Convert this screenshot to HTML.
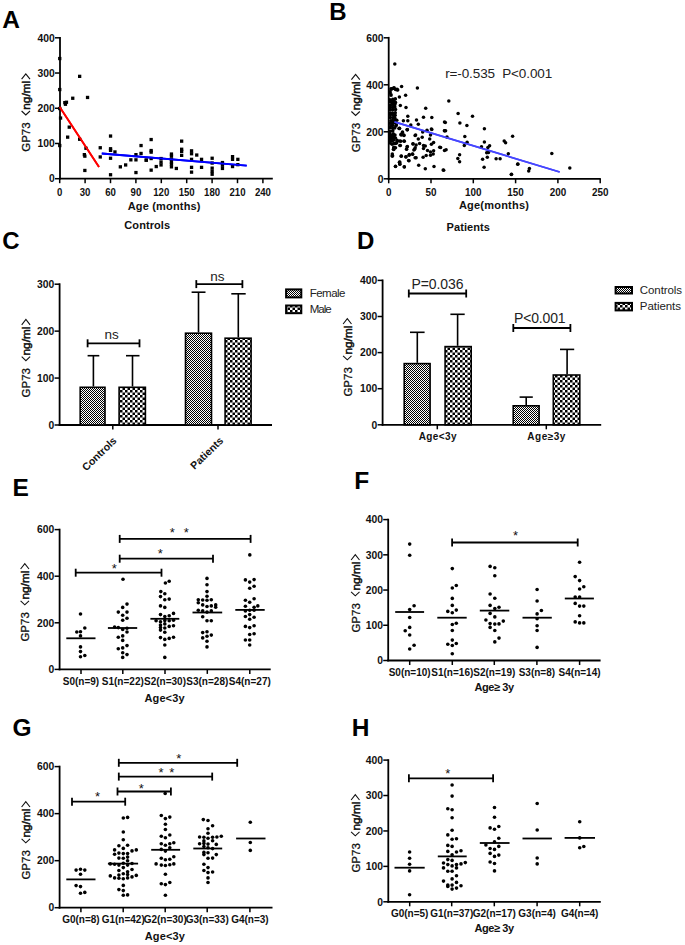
<!DOCTYPE html>
<html><head><meta charset="utf-8"><style>
html,body{margin:0;padding:0;background:#fff;}
svg{display:block;font-family:"Liberation Sans", sans-serif;}
</style></head><body>
<svg width="685" height="945" viewBox="0 0 685 945">
<rect width="685" height="945" fill="#fff"/>
<defs>
<pattern id="pf" patternUnits="userSpaceOnUse" width="2" height="2"><rect width="2" height="2" fill="#fff"/><rect width="1" height="1" fill="#000"/><rect x="1" y="1" width="1" height="1" fill="#000"/></pattern>
<pattern id="pm" patternUnits="userSpaceOnUse" width="5" height="5"><rect width="5" height="5" fill="#fff"/><rect width="2.5" height="2.5" fill="#000"/><rect x="2.5" y="2.5" width="2.5" height="2.5" fill="#000"/></pattern>
</defs>
<text x="2.20" y="27.50" font-size="24.5" font-weight="bold" text-anchor="start" fill="#000" >A</text>
<line x1="60.00" y1="179.60" x2="60.00" y2="36.90" stroke="#000" stroke-width="1.8"/>
<line x1="55.00" y1="178.70" x2="60.00" y2="178.70" stroke="#000" stroke-width="1.5"/>
<text x="54.70" y="182.40" font-size="11.5" font-weight="bold" text-anchor="end" fill="#111" textLength="5.75" lengthAdjust="spacingAndGlyphs">0</text>
<line x1="55.00" y1="143.47" x2="60.00" y2="143.47" stroke="#000" stroke-width="1.5"/>
<text x="54.70" y="147.17" font-size="11.5" font-weight="bold" text-anchor="end" fill="#111" textLength="17.25" lengthAdjust="spacingAndGlyphs">100</text>
<line x1="55.00" y1="108.25" x2="60.00" y2="108.25" stroke="#000" stroke-width="1.5"/>
<text x="54.70" y="111.95" font-size="11.5" font-weight="bold" text-anchor="end" fill="#111" textLength="17.25" lengthAdjust="spacingAndGlyphs">200</text>
<line x1="55.00" y1="73.03" x2="60.00" y2="73.03" stroke="#000" stroke-width="1.5"/>
<text x="54.70" y="76.73" font-size="11.5" font-weight="bold" text-anchor="end" fill="#111" textLength="17.25" lengthAdjust="spacingAndGlyphs">300</text>
<line x1="55.00" y1="37.80" x2="60.00" y2="37.80" stroke="#000" stroke-width="1.5"/>
<text x="54.70" y="41.50" font-size="11.5" font-weight="bold" text-anchor="end" fill="#111" textLength="17.25" lengthAdjust="spacingAndGlyphs">400</text>
<line x1="59.10" y1="178.70" x2="272.80" y2="178.70" stroke="#000" stroke-width="1.8"/>
<line x1="59.70" y1="178.70" x2="59.70" y2="183.20" stroke="#000" stroke-width="1.5"/>
<line x1="85.10" y1="178.70" x2="85.10" y2="183.20" stroke="#000" stroke-width="1.5"/>
<line x1="110.50" y1="178.70" x2="110.50" y2="183.20" stroke="#000" stroke-width="1.5"/>
<line x1="135.90" y1="178.70" x2="135.90" y2="183.20" stroke="#000" stroke-width="1.5"/>
<line x1="161.30" y1="178.70" x2="161.30" y2="183.20" stroke="#000" stroke-width="1.5"/>
<line x1="186.70" y1="178.70" x2="186.70" y2="183.20" stroke="#000" stroke-width="1.5"/>
<line x1="212.10" y1="178.70" x2="212.10" y2="183.20" stroke="#000" stroke-width="1.5"/>
<line x1="237.50" y1="178.70" x2="237.50" y2="183.20" stroke="#000" stroke-width="1.5"/>
<line x1="262.90" y1="178.70" x2="262.90" y2="183.20" stroke="#000" stroke-width="1.5"/>
<text x="59.70" y="195.60" font-size="11.2" font-weight="bold" text-anchor="middle" fill="#111" textLength="5.35" lengthAdjust="spacingAndGlyphs">0</text>
<text x="85.10" y="195.60" font-size="11.2" font-weight="bold" text-anchor="middle" fill="#111" textLength="10.70" lengthAdjust="spacingAndGlyphs">30</text>
<text x="110.50" y="195.60" font-size="11.2" font-weight="bold" text-anchor="middle" fill="#111" textLength="10.70" lengthAdjust="spacingAndGlyphs">60</text>
<text x="135.90" y="195.60" font-size="11.2" font-weight="bold" text-anchor="middle" fill="#111" textLength="10.70" lengthAdjust="spacingAndGlyphs">90</text>
<text x="161.30" y="195.60" font-size="11.2" font-weight="bold" text-anchor="middle" fill="#111" textLength="16.05" lengthAdjust="spacingAndGlyphs">120</text>
<text x="186.70" y="195.60" font-size="11.2" font-weight="bold" text-anchor="middle" fill="#111" textLength="16.05" lengthAdjust="spacingAndGlyphs">150</text>
<text x="212.10" y="195.60" font-size="11.2" font-weight="bold" text-anchor="middle" fill="#111" textLength="16.05" lengthAdjust="spacingAndGlyphs">180</text>
<text x="237.50" y="195.60" font-size="11.2" font-weight="bold" text-anchor="middle" fill="#111" textLength="16.05" lengthAdjust="spacingAndGlyphs">210</text>
<text x="262.90" y="195.60" font-size="11.2" font-weight="bold" text-anchor="middle" fill="#111" textLength="16.05" lengthAdjust="spacingAndGlyphs">240</text>
<g transform="translate(30.00,151.80) rotate(-90)" fill="#111">
<text x="0" y="0" font-size="11.5" stroke="#111" stroke-width="0.3" textLength="29.5" lengthAdjust="spacingAndGlyphs">GP73</text>
<path d="M40.8,-8.4 L36.8,-4.2 L40.8,0" fill="none" stroke="#111" stroke-width="1.1"/>
<text x="42" y="0" font-size="11.8" stroke="#111" stroke-width="0.5" textLength="29" lengthAdjust="spacingAndGlyphs">ng/ml</text>
<path d="M72.6,-8.4 L78.0,-4.2 L72.6,0" fill="none" stroke="#111" stroke-width="1.1"/>
</g>
<text x="164.10" y="209.50" font-size="11" font-weight="bold" text-anchor="middle" fill="#111" textLength="72.8">Age (months)</text>
<text x="147.20" y="229.20" font-size="11" font-weight="bold" text-anchor="middle" fill="#111" textLength="45.7">Controls</text>
<line x1="59.70" y1="107.00" x2="99.00" y2="167.00" stroke="#ff0000" stroke-width="1.8"/>
<line x1="101.80" y1="153.50" x2="246.70" y2="165.70" stroke="#0000ff" stroke-width="1.8"/>
<text x="329.30" y="19.50" font-size="24" font-weight="bold" text-anchor="start" fill="#000" >B</text>
<line x1="388.70" y1="179.70" x2="388.70" y2="36.90" stroke="#000" stroke-width="1.8"/>
<line x1="383.70" y1="178.80" x2="388.70" y2="178.80" stroke="#000" stroke-width="1.5"/>
<text x="383.40" y="182.50" font-size="11.5" font-weight="bold" text-anchor="end" fill="#111" textLength="5.75" lengthAdjust="spacingAndGlyphs">0</text>
<line x1="383.70" y1="131.80" x2="388.70" y2="131.80" stroke="#000" stroke-width="1.5"/>
<text x="383.40" y="135.50" font-size="11.5" font-weight="bold" text-anchor="end" fill="#111" textLength="17.25" lengthAdjust="spacingAndGlyphs">200</text>
<line x1="383.70" y1="84.80" x2="388.70" y2="84.80" stroke="#000" stroke-width="1.5"/>
<text x="383.40" y="88.50" font-size="11.5" font-weight="bold" text-anchor="end" fill="#111" textLength="17.25" lengthAdjust="spacingAndGlyphs">400</text>
<line x1="383.70" y1="37.80" x2="388.70" y2="37.80" stroke="#000" stroke-width="1.5"/>
<text x="383.40" y="41.50" font-size="11.5" font-weight="bold" text-anchor="end" fill="#111" textLength="17.25" lengthAdjust="spacingAndGlyphs">600</text>
<line x1="387.80" y1="178.80" x2="600.80" y2="178.80" stroke="#000" stroke-width="1.8"/>
<line x1="388.70" y1="178.80" x2="388.70" y2="183.30" stroke="#000" stroke-width="1.5"/>
<line x1="431.00" y1="178.80" x2="431.00" y2="183.30" stroke="#000" stroke-width="1.5"/>
<line x1="473.30" y1="178.80" x2="473.30" y2="183.30" stroke="#000" stroke-width="1.5"/>
<line x1="515.60" y1="178.80" x2="515.60" y2="183.30" stroke="#000" stroke-width="1.5"/>
<line x1="557.90" y1="178.80" x2="557.90" y2="183.30" stroke="#000" stroke-width="1.5"/>
<line x1="600.20" y1="178.80" x2="600.20" y2="183.30" stroke="#000" stroke-width="1.5"/>
<text x="388.70" y="195.90" font-size="11.2" font-weight="bold" text-anchor="middle" fill="#111" textLength="5.50" lengthAdjust="spacingAndGlyphs">0</text>
<text x="431.00" y="195.90" font-size="11.2" font-weight="bold" text-anchor="middle" fill="#111" textLength="11.00" lengthAdjust="spacingAndGlyphs">50</text>
<text x="473.30" y="195.90" font-size="11.2" font-weight="bold" text-anchor="middle" fill="#111" textLength="16.50" lengthAdjust="spacingAndGlyphs">100</text>
<text x="515.60" y="195.90" font-size="11.2" font-weight="bold" text-anchor="middle" fill="#111" textLength="16.50" lengthAdjust="spacingAndGlyphs">150</text>
<text x="557.90" y="195.90" font-size="11.2" font-weight="bold" text-anchor="middle" fill="#111" textLength="16.50" lengthAdjust="spacingAndGlyphs">200</text>
<text x="600.20" y="195.90" font-size="11.2" font-weight="bold" text-anchor="middle" fill="#111" textLength="16.50" lengthAdjust="spacingAndGlyphs">250</text>
<g transform="translate(359.80,152.30) rotate(-90)" fill="#111">
<text x="0" y="0" font-size="11.5" stroke="#111" stroke-width="0.3" textLength="29.5" lengthAdjust="spacingAndGlyphs">GP73</text>
<path d="M40.8,-8.4 L36.8,-4.2 L40.8,0" fill="none" stroke="#111" stroke-width="1.1"/>
<text x="42" y="0" font-size="11.8" stroke="#111" stroke-width="0.5" textLength="29" lengthAdjust="spacingAndGlyphs">ng/ml</text>
<path d="M72.6,-8.4 L78.0,-4.2 L72.6,0" fill="none" stroke="#111" stroke-width="1.1"/>
</g>
<text x="445.20" y="78.30" font-size="13.5" font-weight="normal" text-anchor="start" fill="#222" textLength="107">r=-0.535&#160;&#160;P&lt;0.001</text>
<line x1="394.40" y1="121.90" x2="559.70" y2="172.00" stroke="#4646ff" stroke-width="1.7"/>
<text x="493.90" y="208.80" font-size="11" font-weight="bold" text-anchor="middle" fill="#111" textLength="70">Age(months)</text>
<text x="468.20" y="230.60" font-size="11" font-weight="bold" text-anchor="middle" fill="#111" textLength="43.3">Patients</text>
<text x="2.30" y="249.30" font-size="24" font-weight="bold" text-anchor="start" fill="#000" >C</text>
<line x1="59.60" y1="425.90" x2="59.60" y2="283.30" stroke="#000" stroke-width="1.8"/>
<line x1="54.60" y1="425.00" x2="59.60" y2="425.00" stroke="#000" stroke-width="1.5"/>
<text x="54.30" y="428.70" font-size="11.5" font-weight="bold" text-anchor="end" fill="#111" textLength="5.75" lengthAdjust="spacingAndGlyphs">0</text>
<line x1="54.60" y1="378.07" x2="59.60" y2="378.07" stroke="#000" stroke-width="1.5"/>
<text x="54.30" y="381.77" font-size="11.5" font-weight="bold" text-anchor="end" fill="#111" textLength="17.25" lengthAdjust="spacingAndGlyphs">100</text>
<line x1="54.60" y1="331.13" x2="59.60" y2="331.13" stroke="#000" stroke-width="1.5"/>
<text x="54.30" y="334.83" font-size="11.5" font-weight="bold" text-anchor="end" fill="#111" textLength="17.25" lengthAdjust="spacingAndGlyphs">200</text>
<line x1="54.60" y1="284.20" x2="59.60" y2="284.20" stroke="#000" stroke-width="1.5"/>
<text x="54.30" y="287.90" font-size="11.5" font-weight="bold" text-anchor="end" fill="#111" textLength="17.25" lengthAdjust="spacingAndGlyphs">300</text>
<line x1="58.70" y1="425.00" x2="272.00" y2="425.00" stroke="#000" stroke-width="1.8"/>
<line x1="112.80" y1="425.00" x2="112.80" y2="429.50" stroke="#000" stroke-width="1.5"/>
<line x1="218.00" y1="425.00" x2="218.00" y2="429.50" stroke="#000" stroke-width="1.5"/>
<text x="357.00" y="249.20" font-size="24" font-weight="bold" text-anchor="start" fill="#000" >D</text>
<line x1="382.60" y1="425.70" x2="382.60" y2="279.50" stroke="#000" stroke-width="1.8"/>
<line x1="377.60" y1="424.80" x2="382.60" y2="424.80" stroke="#000" stroke-width="1.5"/>
<text x="377.30" y="428.50" font-size="11.5" font-weight="bold" text-anchor="end" fill="#111" textLength="5.75" lengthAdjust="spacingAndGlyphs">0</text>
<line x1="377.60" y1="388.70" x2="382.60" y2="388.70" stroke="#000" stroke-width="1.5"/>
<text x="377.30" y="392.40" font-size="11.5" font-weight="bold" text-anchor="end" fill="#111" textLength="17.25" lengthAdjust="spacingAndGlyphs">100</text>
<line x1="377.60" y1="352.60" x2="382.60" y2="352.60" stroke="#000" stroke-width="1.5"/>
<text x="377.30" y="356.30" font-size="11.5" font-weight="bold" text-anchor="end" fill="#111" textLength="17.25" lengthAdjust="spacingAndGlyphs">200</text>
<line x1="377.60" y1="316.50" x2="382.60" y2="316.50" stroke="#000" stroke-width="1.5"/>
<text x="377.30" y="320.20" font-size="11.5" font-weight="bold" text-anchor="end" fill="#111" textLength="17.25" lengthAdjust="spacingAndGlyphs">300</text>
<line x1="377.60" y1="280.40" x2="382.60" y2="280.40" stroke="#000" stroke-width="1.5"/>
<text x="377.30" y="284.10" font-size="11.5" font-weight="bold" text-anchor="end" fill="#111" textLength="17.25" lengthAdjust="spacingAndGlyphs">400</text>
<line x1="381.70" y1="424.80" x2="601.20" y2="424.80" stroke="#000" stroke-width="1.8"/>
<line x1="437.30" y1="424.80" x2="437.30" y2="429.30" stroke="#000" stroke-width="1.5"/>
<line x1="546.30" y1="424.80" x2="546.30" y2="429.30" stroke="#000" stroke-width="1.5"/>
<text x="12.60" y="495.50" font-size="24.5" font-weight="bold" text-anchor="start" fill="#000" >E</text>
<line x1="59.60" y1="670.30" x2="59.60" y2="528.70" stroke="#000" stroke-width="1.8"/>
<line x1="54.60" y1="669.40" x2="59.60" y2="669.40" stroke="#000" stroke-width="1.5"/>
<text x="54.30" y="673.10" font-size="11.5" font-weight="bold" text-anchor="end" fill="#111" textLength="5.75" lengthAdjust="spacingAndGlyphs">0</text>
<line x1="54.60" y1="622.80" x2="59.60" y2="622.80" stroke="#000" stroke-width="1.5"/>
<text x="54.30" y="626.50" font-size="11.5" font-weight="bold" text-anchor="end" fill="#111" textLength="17.25" lengthAdjust="spacingAndGlyphs">200</text>
<line x1="54.60" y1="576.20" x2="59.60" y2="576.20" stroke="#000" stroke-width="1.5"/>
<text x="54.30" y="579.90" font-size="11.5" font-weight="bold" text-anchor="end" fill="#111" textLength="17.25" lengthAdjust="spacingAndGlyphs">400</text>
<line x1="54.60" y1="529.60" x2="59.60" y2="529.60" stroke="#000" stroke-width="1.5"/>
<text x="54.30" y="533.30" font-size="11.5" font-weight="bold" text-anchor="end" fill="#111" textLength="17.25" lengthAdjust="spacingAndGlyphs">600</text>
<line x1="58.70" y1="669.40" x2="270.70" y2="669.40" stroke="#000" stroke-width="1.8"/>
<line x1="81.00" y1="669.40" x2="81.00" y2="673.90" stroke="#000" stroke-width="1.5"/>
<line x1="122.80" y1="669.40" x2="122.80" y2="673.90" stroke="#000" stroke-width="1.5"/>
<line x1="165.00" y1="669.40" x2="165.00" y2="673.90" stroke="#000" stroke-width="1.5"/>
<line x1="207.30" y1="669.40" x2="207.30" y2="673.90" stroke="#000" stroke-width="1.5"/>
<line x1="249.80" y1="669.40" x2="249.80" y2="673.90" stroke="#000" stroke-width="1.5"/>
<text x="354.30" y="488.60" font-size="24.5" font-weight="bold" text-anchor="start" fill="#000" >F</text>
<line x1="388.20" y1="661.40" x2="388.20" y2="518.70" stroke="#000" stroke-width="1.8"/>
<line x1="383.20" y1="660.50" x2="388.20" y2="660.50" stroke="#000" stroke-width="1.5"/>
<text x="382.90" y="664.20" font-size="11.5" font-weight="bold" text-anchor="end" fill="#111" textLength="5.75" lengthAdjust="spacingAndGlyphs">0</text>
<line x1="383.20" y1="625.27" x2="388.20" y2="625.27" stroke="#000" stroke-width="1.5"/>
<text x="382.90" y="628.98" font-size="11.5" font-weight="bold" text-anchor="end" fill="#111" textLength="17.25" lengthAdjust="spacingAndGlyphs">100</text>
<line x1="383.20" y1="590.05" x2="388.20" y2="590.05" stroke="#000" stroke-width="1.5"/>
<text x="382.90" y="593.75" font-size="11.5" font-weight="bold" text-anchor="end" fill="#111" textLength="17.25" lengthAdjust="spacingAndGlyphs">200</text>
<line x1="383.20" y1="554.83" x2="388.20" y2="554.83" stroke="#000" stroke-width="1.5"/>
<text x="382.90" y="558.53" font-size="11.5" font-weight="bold" text-anchor="end" fill="#111" textLength="17.25" lengthAdjust="spacingAndGlyphs">300</text>
<line x1="383.20" y1="519.60" x2="388.20" y2="519.60" stroke="#000" stroke-width="1.5"/>
<text x="382.90" y="523.30" font-size="11.5" font-weight="bold" text-anchor="end" fill="#111" textLength="17.25" lengthAdjust="spacingAndGlyphs">400</text>
<line x1="387.30" y1="660.50" x2="600.60" y2="660.50" stroke="#000" stroke-width="1.8"/>
<line x1="409.70" y1="660.50" x2="409.70" y2="665.00" stroke="#000" stroke-width="1.5"/>
<line x1="452.30" y1="660.50" x2="452.30" y2="665.00" stroke="#000" stroke-width="1.5"/>
<line x1="494.30" y1="660.50" x2="494.30" y2="665.00" stroke="#000" stroke-width="1.5"/>
<line x1="536.90" y1="660.50" x2="536.90" y2="665.00" stroke="#000" stroke-width="1.5"/>
<line x1="579.60" y1="660.50" x2="579.60" y2="665.00" stroke="#000" stroke-width="1.5"/>
<text x="12.60" y="735.80" font-size="24.5" font-weight="bold" text-anchor="start" fill="#000" >G</text>
<line x1="59.60" y1="908.60" x2="59.60" y2="765.70" stroke="#000" stroke-width="1.8"/>
<line x1="54.60" y1="907.70" x2="59.60" y2="907.70" stroke="#000" stroke-width="1.5"/>
<text x="54.30" y="911.40" font-size="11.5" font-weight="bold" text-anchor="end" fill="#111" textLength="5.75" lengthAdjust="spacingAndGlyphs">0</text>
<line x1="54.60" y1="860.67" x2="59.60" y2="860.67" stroke="#000" stroke-width="1.5"/>
<text x="54.30" y="864.37" font-size="11.5" font-weight="bold" text-anchor="end" fill="#111" textLength="17.25" lengthAdjust="spacingAndGlyphs">200</text>
<line x1="54.60" y1="813.63" x2="59.60" y2="813.63" stroke="#000" stroke-width="1.5"/>
<text x="54.30" y="817.33" font-size="11.5" font-weight="bold" text-anchor="end" fill="#111" textLength="17.25" lengthAdjust="spacingAndGlyphs">400</text>
<line x1="54.60" y1="766.60" x2="59.60" y2="766.60" stroke="#000" stroke-width="1.5"/>
<text x="54.30" y="770.30" font-size="11.5" font-weight="bold" text-anchor="end" fill="#111" textLength="17.25" lengthAdjust="spacingAndGlyphs">600</text>
<line x1="58.70" y1="907.70" x2="272.50" y2="907.70" stroke="#000" stroke-width="1.8"/>
<line x1="80.90" y1="907.70" x2="80.90" y2="912.20" stroke="#000" stroke-width="1.5"/>
<line x1="123.20" y1="907.70" x2="123.20" y2="912.20" stroke="#000" stroke-width="1.5"/>
<line x1="165.20" y1="907.70" x2="165.20" y2="912.20" stroke="#000" stroke-width="1.5"/>
<line x1="207.20" y1="907.70" x2="207.20" y2="912.20" stroke="#000" stroke-width="1.5"/>
<line x1="249.90" y1="907.70" x2="249.90" y2="912.20" stroke="#000" stroke-width="1.5"/>
<text x="351.70" y="736.30" font-size="24.5" font-weight="bold" text-anchor="start" fill="#000" >H</text>
<line x1="388.30" y1="902.70" x2="388.30" y2="759.20" stroke="#000" stroke-width="1.8"/>
<line x1="383.30" y1="901.80" x2="388.30" y2="901.80" stroke="#000" stroke-width="1.5"/>
<text x="383.00" y="905.50" font-size="11.5" font-weight="bold" text-anchor="end" fill="#111" textLength="5.75" lengthAdjust="spacingAndGlyphs">0</text>
<line x1="383.30" y1="866.38" x2="388.30" y2="866.38" stroke="#000" stroke-width="1.5"/>
<text x="383.00" y="870.08" font-size="11.5" font-weight="bold" text-anchor="end" fill="#111" textLength="17.25" lengthAdjust="spacingAndGlyphs">100</text>
<line x1="383.30" y1="830.95" x2="388.30" y2="830.95" stroke="#000" stroke-width="1.5"/>
<text x="383.00" y="834.65" font-size="11.5" font-weight="bold" text-anchor="end" fill="#111" textLength="17.25" lengthAdjust="spacingAndGlyphs">200</text>
<line x1="383.30" y1="795.52" x2="388.30" y2="795.52" stroke="#000" stroke-width="1.5"/>
<text x="383.00" y="799.23" font-size="11.5" font-weight="bold" text-anchor="end" fill="#111" textLength="17.25" lengthAdjust="spacingAndGlyphs">300</text>
<line x1="383.30" y1="760.10" x2="388.30" y2="760.10" stroke="#000" stroke-width="1.5"/>
<text x="383.00" y="763.80" font-size="11.5" font-weight="bold" text-anchor="end" fill="#111" textLength="17.25" lengthAdjust="spacingAndGlyphs">400</text>
<line x1="387.40" y1="901.80" x2="600.80" y2="901.80" stroke="#000" stroke-width="1.8"/>
<line x1="409.70" y1="901.80" x2="409.70" y2="906.30" stroke="#000" stroke-width="1.5"/>
<line x1="451.70" y1="901.80" x2="451.70" y2="906.30" stroke="#000" stroke-width="1.5"/>
<line x1="494.30" y1="901.80" x2="494.30" y2="906.30" stroke="#000" stroke-width="1.5"/>
<line x1="537.10" y1="901.80" x2="537.10" y2="906.30" stroke="#000" stroke-width="1.5"/>
<line x1="579.70" y1="901.80" x2="579.70" y2="906.30" stroke="#000" stroke-width="1.5"/>
<line x1="93.40" y1="386.50" x2="93.40" y2="355.70" stroke="#000" stroke-width="1.6"/>
<line x1="87.60" y1="355.70" x2="99.30" y2="355.70" stroke="#000" stroke-width="1.6"/>
<line x1="132.50" y1="386.50" x2="132.50" y2="355.70" stroke="#000" stroke-width="1.6"/>
<line x1="126.00" y1="355.70" x2="139.50" y2="355.70" stroke="#000" stroke-width="1.6"/>
<line x1="198.50" y1="332.40" x2="198.50" y2="292.20" stroke="#000" stroke-width="1.6"/>
<line x1="191.60" y1="292.20" x2="205.50" y2="292.20" stroke="#000" stroke-width="1.6"/>
<line x1="238.30" y1="337.40" x2="238.30" y2="293.80" stroke="#000" stroke-width="1.6"/>
<line x1="231.30" y1="293.80" x2="245.70" y2="293.80" stroke="#000" stroke-width="1.6"/>
<rect x="80.20" y="387.30" width="24.80" height="37.70" fill="url(#pf)" stroke="#000" stroke-width="1.6"/>
<rect x="119.10" y="387.30" width="26.30" height="37.70" fill="url(#pm)" stroke="#000" stroke-width="1.6"/>
<rect x="185.50" y="333.20" width="26.00" height="91.80" fill="url(#pf)" stroke="#000" stroke-width="1.6"/>
<rect x="225.10" y="338.20" width="26.00" height="86.80" fill="url(#pm)" stroke="#000" stroke-width="1.6"/>
<line x1="87.60" y1="343.30" x2="139.50" y2="343.30" stroke="#000" stroke-width="1.8"/>
<line x1="87.60" y1="339.30" x2="87.60" y2="347.30" stroke="#000" stroke-width="1.8"/>
<line x1="139.50" y1="339.30" x2="139.50" y2="347.30" stroke="#000" stroke-width="1.8"/>
<line x1="196.30" y1="284.10" x2="242.40" y2="284.10" stroke="#000" stroke-width="1.8"/>
<line x1="196.30" y1="280.10" x2="196.30" y2="288.10" stroke="#000" stroke-width="1.8"/>
<line x1="242.40" y1="280.10" x2="242.40" y2="288.10" stroke="#000" stroke-width="1.8"/>
<text x="111.60" y="338.90" font-size="13.5" font-weight="normal" text-anchor="middle" fill="#222" >ns</text>
<text x="217.40" y="281.00" font-size="13.5" font-weight="normal" text-anchor="middle" fill="#222" >ns</text>
<rect x="286.10" y="289.40" width="15.20" height="8.00" fill="url(#pf)" stroke="#000" stroke-width="2"/>
<text x="309.80" y="296.60" font-size="11.5" font-weight="normal" text-anchor="start" fill="#222" textLength="35.6">Female</text>
<rect x="286.10" y="305.50" width="15.20" height="7.70" fill="url(#pm)" stroke="#000" stroke-width="2"/>
<text x="309.80" y="312.90" font-size="11.5" font-weight="normal" text-anchor="start" fill="#222" textLength="21.8">Male</text>
<text transform="translate(117.3,441.5) rotate(-44)" font-size="10.5" font-weight="bold" text-anchor="end" fill="#111">Controls</text>
<text transform="translate(224.0,441.5) rotate(-44)" font-size="10.5" font-weight="bold" text-anchor="end" fill="#111">Patients</text>
<g transform="translate(30.10,397.50) rotate(-90)" fill="#111">
<text x="0" y="0" font-size="11.5" stroke="#111" stroke-width="0.3" textLength="29.5" lengthAdjust="spacingAndGlyphs">GP73</text>
<path d="M40.8,-8.4 L36.8,-4.2 L40.8,0" fill="none" stroke="#111" stroke-width="1.1"/>
<text x="42" y="0" font-size="11.8" stroke="#111" stroke-width="0.5" textLength="29" lengthAdjust="spacingAndGlyphs">ng/ml</text>
<path d="M72.6,-8.4 L78.0,-4.2 L72.6,0" fill="none" stroke="#111" stroke-width="1.1"/>
</g>
<line x1="417.30" y1="362.80" x2="417.30" y2="332.30" stroke="#000" stroke-width="1.6"/>
<line x1="410.00" y1="332.30" x2="424.60" y2="332.30" stroke="#000" stroke-width="1.6"/>
<line x1="457.60" y1="345.80" x2="457.60" y2="314.30" stroke="#000" stroke-width="1.6"/>
<line x1="450.40" y1="314.30" x2="464.70" y2="314.30" stroke="#000" stroke-width="1.6"/>
<line x1="526.20" y1="405.00" x2="526.20" y2="397.10" stroke="#000" stroke-width="1.6"/>
<line x1="519.60" y1="397.10" x2="532.80" y2="397.10" stroke="#000" stroke-width="1.6"/>
<line x1="567.10" y1="374.20" x2="567.10" y2="349.40" stroke="#000" stroke-width="1.6"/>
<line x1="560.00" y1="349.40" x2="574.20" y2="349.40" stroke="#000" stroke-width="1.6"/>
<rect x="404.20" y="363.60" width="25.90" height="61.20" fill="url(#pf)" stroke="#000" stroke-width="1.6"/>
<rect x="445.10" y="346.60" width="26.10" height="78.20" fill="url(#pm)" stroke="#000" stroke-width="1.6"/>
<rect x="513.20" y="405.80" width="25.90" height="19.00" fill="url(#pf)" stroke="#000" stroke-width="1.6"/>
<rect x="553.30" y="375.00" width="26.50" height="49.80" fill="url(#pm)" stroke="#000" stroke-width="1.6"/>
<line x1="408.80" y1="293.50" x2="466.20" y2="293.50" stroke="#000" stroke-width="1.8"/>
<line x1="408.80" y1="289.50" x2="408.80" y2="297.50" stroke="#000" stroke-width="1.8"/>
<line x1="466.20" y1="289.50" x2="466.20" y2="297.50" stroke="#000" stroke-width="1.8"/>
<line x1="513.30" y1="328.00" x2="570.40" y2="328.00" stroke="#000" stroke-width="1.8"/>
<line x1="513.30" y1="324.00" x2="513.30" y2="332.00" stroke="#000" stroke-width="1.8"/>
<line x1="570.40" y1="324.00" x2="570.40" y2="332.00" stroke="#000" stroke-width="1.8"/>
<text x="437.50" y="288.70" font-size="14" font-weight="normal" text-anchor="middle" fill="#222" textLength="52">P=0.036</text>
<text x="539.80" y="322.70" font-size="14" font-weight="normal" text-anchor="middle" fill="#222" textLength="51.7">P&lt;0.001</text>
<rect x="615.60" y="287.00" width="16.40" height="6.50" fill="url(#pf)" stroke="#000" stroke-width="2"/>
<text x="639.80" y="293.90" font-size="11.5" font-weight="normal" text-anchor="start" fill="#222" textLength="42.2">Controls</text>
<rect x="615.60" y="302.90" width="16.40" height="7.50" fill="url(#pm)" stroke="#000" stroke-width="2"/>
<text x="639.80" y="310.10" font-size="11.5" font-weight="normal" text-anchor="start" fill="#222" textLength="41.2">Patients</text>
<text x="437.60" y="440.30" font-size="10" font-weight="bold" text-anchor="middle" fill="#111" textLength="37.9">Age&lt;3y</text>
<text x="546.30" y="440.30" font-size="10" font-weight="bold" text-anchor="middle" fill="#111" textLength="37.9">Age≥3y</text>
<g transform="translate(351.50,396.60) rotate(-90)" fill="#111">
<text x="0" y="0" font-size="11.5" stroke="#111" stroke-width="0.3" textLength="29.5" lengthAdjust="spacingAndGlyphs">GP73</text>
<path d="M40.8,-8.4 L36.8,-4.2 L40.8,0" fill="none" stroke="#111" stroke-width="1.1"/>
<text x="42" y="0" font-size="11.8" stroke="#111" stroke-width="0.5" textLength="29" lengthAdjust="spacingAndGlyphs">ng/ml</text>
<path d="M72.6,-8.4 L78.0,-4.2 L72.6,0" fill="none" stroke="#111" stroke-width="1.1"/>
</g>
<text x="81.00" y="684.70" font-size="10" font-weight="bold" text-anchor="middle" fill="#111" >S0(n=9)</text>
<text x="122.80" y="684.70" font-size="10" font-weight="bold" text-anchor="middle" fill="#111" >S1(n=22)</text>
<text x="165.00" y="684.70" font-size="10" font-weight="bold" text-anchor="middle" fill="#111" >S2(n=30)</text>
<text x="207.30" y="684.70" font-size="10" font-weight="bold" text-anchor="middle" fill="#111" >S3(n=28)</text>
<text x="249.80" y="684.70" font-size="10" font-weight="bold" text-anchor="middle" fill="#111" >S4(n=27)</text>
<text x="164.50" y="701.50" font-size="11" font-weight="bold" text-anchor="middle" fill="#111" textLength="40">Age&lt;3y</text>
<g transform="translate(29.00,641.60) rotate(-90)" fill="#111">
<text x="0" y="0" font-size="11.5" stroke="#111" stroke-width="0.3" textLength="29.5" lengthAdjust="spacingAndGlyphs">GP73</text>
<path d="M40.8,-8.4 L36.8,-4.2 L40.8,0" fill="none" stroke="#111" stroke-width="1.1"/>
<text x="42" y="0" font-size="11.8" stroke="#111" stroke-width="0.5" textLength="29" lengthAdjust="spacingAndGlyphs">ng/ml</text>
<path d="M72.6,-8.4 L78.0,-4.2 L72.6,0" fill="none" stroke="#111" stroke-width="1.1"/>
</g>
<line x1="119.70" y1="538.90" x2="250.60" y2="538.90" stroke="#000" stroke-width="1.8"/>
<line x1="119.70" y1="534.90" x2="119.70" y2="542.90" stroke="#000" stroke-width="1.8"/>
<line x1="250.60" y1="534.90" x2="250.60" y2="542.90" stroke="#000" stroke-width="1.8"/>
<line x1="119.70" y1="558.70" x2="213.00" y2="558.70" stroke="#000" stroke-width="1.8"/>
<line x1="119.70" y1="554.70" x2="119.70" y2="562.70" stroke="#000" stroke-width="1.8"/>
<line x1="213.00" y1="554.70" x2="213.00" y2="562.70" stroke="#000" stroke-width="1.8"/>
<line x1="75.70" y1="572.70" x2="161.50" y2="572.70" stroke="#000" stroke-width="1.8"/>
<line x1="75.70" y1="568.70" x2="75.70" y2="576.70" stroke="#000" stroke-width="1.8"/>
<line x1="161.50" y1="568.70" x2="161.50" y2="576.70" stroke="#000" stroke-width="1.8"/>
<text x="172.30" y="537.26" font-size="13" font-weight="normal" text-anchor="middle" fill="#111" >*</text>
<text x="186.20" y="537.26" font-size="13" font-weight="normal" text-anchor="middle" fill="#111" >*</text>
<text x="160.40" y="558.26" font-size="13" font-weight="normal" text-anchor="middle" fill="#111" >*</text>
<text x="114.30" y="573.16" font-size="13" font-weight="normal" text-anchor="middle" fill="#111" >*</text>
<line x1="66.30" y1="638.30" x2="95.50" y2="638.30" stroke="#000" stroke-width="1.8"/>
<line x1="107.90" y1="628.00" x2="137.20" y2="628.00" stroke="#000" stroke-width="1.8"/>
<line x1="150.40" y1="618.80" x2="179.30" y2="618.80" stroke="#000" stroke-width="1.8"/>
<line x1="192.50" y1="612.50" x2="222.20" y2="612.50" stroke="#000" stroke-width="1.8"/>
<line x1="235.30" y1="609.90" x2="264.70" y2="609.90" stroke="#000" stroke-width="1.8"/>
<text x="409.70" y="676.20" font-size="10" font-weight="bold" text-anchor="middle" fill="#111" >S0(n=10)</text>
<text x="452.30" y="676.20" font-size="10" font-weight="bold" text-anchor="middle" fill="#111" >S1(n=16)</text>
<text x="494.30" y="676.20" font-size="10" font-weight="bold" text-anchor="middle" fill="#111" >S2(n=19)</text>
<text x="536.90" y="676.20" font-size="10" font-weight="bold" text-anchor="middle" fill="#111" >S3(n=8)</text>
<text x="579.60" y="676.20" font-size="10" font-weight="bold" text-anchor="middle" fill="#111" >S4(n=14)</text>
<text x="494.30" y="690.80" font-size="11" font-weight="bold" text-anchor="middle" fill="#111" textLength="39.4">Age≥ 3y</text>
<g transform="translate(359.50,632.60) rotate(-90)" fill="#111">
<text x="0" y="0" font-size="11.5" stroke="#111" stroke-width="0.3" textLength="29.5" lengthAdjust="spacingAndGlyphs">GP73</text>
<path d="M40.8,-8.4 L36.8,-4.2 L40.8,0" fill="none" stroke="#111" stroke-width="1.1"/>
<text x="42" y="0" font-size="11.8" stroke="#111" stroke-width="0.5" textLength="29" lengthAdjust="spacingAndGlyphs">ng/ml</text>
<path d="M72.6,-8.4 L78.0,-4.2 L72.6,0" fill="none" stroke="#111" stroke-width="1.1"/>
</g>
<line x1="452.10" y1="542.50" x2="577.70" y2="542.50" stroke="#000" stroke-width="1.8"/>
<line x1="452.10" y1="538.50" x2="452.10" y2="546.50" stroke="#000" stroke-width="1.8"/>
<line x1="577.70" y1="538.50" x2="577.70" y2="546.50" stroke="#000" stroke-width="1.8"/>
<text x="515.60" y="540.46" font-size="13" font-weight="normal" text-anchor="middle" fill="#111" >*</text>
<line x1="395.20" y1="612.00" x2="424.10" y2="612.00" stroke="#000" stroke-width="1.8"/>
<line x1="437.30" y1="617.70" x2="466.70" y2="617.70" stroke="#000" stroke-width="1.8"/>
<line x1="479.80" y1="610.60" x2="509.30" y2="610.60" stroke="#000" stroke-width="1.8"/>
<line x1="522.50" y1="617.70" x2="551.80" y2="617.70" stroke="#000" stroke-width="1.8"/>
<line x1="564.80" y1="598.50" x2="593.90" y2="598.50" stroke="#000" stroke-width="1.8"/>
<text x="80.90" y="922.80" font-size="10" font-weight="bold" text-anchor="middle" fill="#111" >G0(n=8)</text>
<text x="123.20" y="922.80" font-size="10" font-weight="bold" text-anchor="middle" fill="#111" >G1(n=42)</text>
<text x="165.20" y="922.80" font-size="10" font-weight="bold" text-anchor="middle" fill="#111" >G2(n=30)</text>
<text x="207.20" y="922.80" font-size="10" font-weight="bold" text-anchor="middle" fill="#111" >G3(n=33)</text>
<text x="249.90" y="922.80" font-size="10" font-weight="bold" text-anchor="middle" fill="#111" >G4(n=3)</text>
<text x="164.80" y="940.40" font-size="11" font-weight="bold" text-anchor="middle" fill="#111" textLength="40.2">Age&lt;3y</text>
<g transform="translate(30.00,879.60) rotate(-90)" fill="#111">
<text x="0" y="0" font-size="11.5" stroke="#111" stroke-width="0.3" textLength="29.5" lengthAdjust="spacingAndGlyphs">GP73</text>
<path d="M40.8,-8.4 L36.8,-4.2 L40.8,0" fill="none" stroke="#111" stroke-width="1.1"/>
<text x="42" y="0" font-size="11.8" stroke="#111" stroke-width="0.5" textLength="29" lengthAdjust="spacingAndGlyphs">ng/ml</text>
<path d="M72.6,-8.4 L78.0,-4.2 L72.6,0" fill="none" stroke="#111" stroke-width="1.1"/>
</g>
<line x1="118.80" y1="762.80" x2="237.20" y2="762.80" stroke="#000" stroke-width="1.8"/>
<line x1="118.80" y1="758.80" x2="118.80" y2="766.80" stroke="#000" stroke-width="1.8"/>
<line x1="237.20" y1="758.80" x2="237.20" y2="766.80" stroke="#000" stroke-width="1.8"/>
<line x1="118.80" y1="776.60" x2="212.20" y2="776.60" stroke="#000" stroke-width="1.8"/>
<line x1="118.80" y1="772.60" x2="118.80" y2="780.60" stroke="#000" stroke-width="1.8"/>
<line x1="212.20" y1="772.60" x2="212.20" y2="780.60" stroke="#000" stroke-width="1.8"/>
<line x1="117.50" y1="791.50" x2="170.90" y2="791.50" stroke="#000" stroke-width="1.8"/>
<line x1="117.50" y1="787.50" x2="117.50" y2="795.50" stroke="#000" stroke-width="1.8"/>
<line x1="170.90" y1="787.50" x2="170.90" y2="795.50" stroke="#000" stroke-width="1.8"/>
<line x1="72.00" y1="801.70" x2="125.20" y2="801.70" stroke="#000" stroke-width="1.8"/>
<line x1="72.00" y1="797.70" x2="72.00" y2="805.70" stroke="#000" stroke-width="1.8"/>
<line x1="125.20" y1="797.70" x2="125.20" y2="805.70" stroke="#000" stroke-width="1.8"/>
<text x="178.80" y="763.36" font-size="13" font-weight="normal" text-anchor="middle" fill="#111" >*</text>
<text x="161.00" y="777.26" font-size="13" font-weight="normal" text-anchor="middle" fill="#111" >*</text>
<text x="171.70" y="777.26" font-size="13" font-weight="normal" text-anchor="middle" fill="#111" >*</text>
<text x="141.30" y="793.06" font-size="13" font-weight="normal" text-anchor="middle" fill="#111" >*</text>
<text x="97.50" y="801.16" font-size="13" font-weight="normal" text-anchor="middle" fill="#111" >*</text>
<line x1="66.30" y1="879.40" x2="95.50" y2="879.40" stroke="#000" stroke-width="1.8"/>
<line x1="107.90" y1="863.60" x2="138.10" y2="863.60" stroke="#000" stroke-width="1.8"/>
<line x1="151.20" y1="849.80" x2="180.10" y2="849.80" stroke="#000" stroke-width="1.8"/>
<line x1="193.30" y1="848.50" x2="222.20" y2="848.50" stroke="#000" stroke-width="1.8"/>
<line x1="236.10" y1="838.50" x2="265.50" y2="838.50" stroke="#000" stroke-width="1.8"/>
<text x="409.70" y="916.50" font-size="10" font-weight="bold" text-anchor="middle" fill="#111" >G0(n=5)</text>
<text x="451.70" y="916.50" font-size="10" font-weight="bold" text-anchor="middle" fill="#111" >G1(n=37)</text>
<text x="494.30" y="916.50" font-size="10" font-weight="bold" text-anchor="middle" fill="#111" >G2(n=17)</text>
<text x="537.10" y="916.50" font-size="10" font-weight="bold" text-anchor="middle" fill="#111" >G3(n=4)</text>
<text x="579.70" y="916.50" font-size="10" font-weight="bold" text-anchor="middle" fill="#111" >G4(n=4)</text>
<text x="494.30" y="932.10" font-size="11" font-weight="bold" text-anchor="middle" fill="#111" textLength="39.4">Age≥ 3y</text>
<g transform="translate(359.50,872.60) rotate(-90)" fill="#111">
<text x="0" y="0" font-size="11.5" stroke="#111" stroke-width="0.3" textLength="29.5" lengthAdjust="spacingAndGlyphs">GP73</text>
<path d="M40.8,-8.4 L36.8,-4.2 L40.8,0" fill="none" stroke="#111" stroke-width="1.1"/>
<text x="42" y="0" font-size="11.8" stroke="#111" stroke-width="0.5" textLength="29" lengthAdjust="spacingAndGlyphs">ng/ml</text>
<path d="M72.6,-8.4 L78.0,-4.2 L72.6,0" fill="none" stroke="#111" stroke-width="1.1"/>
</g>
<line x1="408.90" y1="778.30" x2="493.10" y2="778.30" stroke="#000" stroke-width="1.8"/>
<line x1="408.90" y1="774.30" x2="408.90" y2="782.30" stroke="#000" stroke-width="1.8"/>
<line x1="493.10" y1="774.30" x2="493.10" y2="782.30" stroke="#000" stroke-width="1.8"/>
<text x="447.90" y="777.56" font-size="13" font-weight="normal" text-anchor="middle" fill="#111" >*</text>
<line x1="394.50" y1="867.70" x2="424.70" y2="867.70" stroke="#000" stroke-width="1.8"/>
<line x1="437.80" y1="856.40" x2="466.70" y2="856.40" stroke="#000" stroke-width="1.8"/>
<line x1="479.80" y1="843.00" x2="509.50" y2="843.00" stroke="#000" stroke-width="1.8"/>
<line x1="522.50" y1="838.50" x2="551.90" y2="838.50" stroke="#000" stroke-width="1.8"/>
<line x1="564.60" y1="837.90" x2="595.00" y2="837.90" stroke="#000" stroke-width="1.8"/>
<g fill="#000"><circle cx="80.5" cy="614.0" r="1.8"/><circle cx="84.8" cy="628.0" r="1.8"/><circle cx="76.8" cy="632.0" r="1.8"/><circle cx="80.5" cy="631.7" r="1.8"/><circle cx="80.5" cy="635.9" r="1.8"/><circle cx="80.5" cy="646.9" r="1.8"/><circle cx="80.5" cy="651.6" r="1.8"/><circle cx="80.5" cy="656.8" r="1.8"/><circle cx="84.8" cy="655.5" r="1.8"/><circle cx="123.0" cy="579.2" r="1.8"/><circle cx="127.0" cy="604.1" r="1.8"/><circle cx="122.7" cy="607.4" r="1.8"/><circle cx="118.3" cy="612.1" r="1.8"/><circle cx="127.0" cy="612.1" r="1.8"/><circle cx="122.7" cy="615.2" r="1.8"/><circle cx="127.0" cy="618.3" r="1.8"/><circle cx="122.7" cy="620.2" r="1.8"/><circle cx="114.6" cy="627.0" r="1.8"/><circle cx="118.3" cy="627.6" r="1.8"/><circle cx="122.7" cy="629.5" r="1.8"/><circle cx="127.0" cy="628.2" r="1.8"/><circle cx="127.0" cy="632.0" r="1.8"/><circle cx="118.3" cy="637.2" r="1.8"/><circle cx="122.7" cy="635.9" r="1.8"/><circle cx="122.7" cy="640.4" r="1.8"/><circle cx="118.3" cy="648.7" r="1.8"/><circle cx="122.7" cy="647.9" r="1.8"/><circle cx="127.0" cy="645.6" r="1.8"/><circle cx="122.7" cy="652.8" r="1.8"/><circle cx="127.0" cy="654.6" r="1.8"/><circle cx="122.7" cy="657.4" r="1.8"/><circle cx="165.4" cy="583.0" r="1.8"/><circle cx="169.2" cy="581.3" r="1.8"/><circle cx="160.8" cy="591.6" r="1.8"/><circle cx="164.8" cy="593.8" r="1.8"/><circle cx="160.5" cy="596.6" r="1.8"/><circle cx="164.8" cy="599.7" r="1.8"/><circle cx="169.2" cy="599.1" r="1.8"/><circle cx="160.5" cy="605.9" r="1.8"/><circle cx="164.8" cy="607.4" r="1.8"/><circle cx="160.5" cy="614.6" r="1.8"/><circle cx="164.8" cy="616.5" r="1.8"/><circle cx="169.2" cy="615.8" r="1.8"/><circle cx="173.5" cy="613.4" r="1.8"/><circle cx="156.1" cy="620.8" r="1.8"/><circle cx="160.5" cy="621.8" r="1.8"/><circle cx="164.8" cy="620.6" r="1.8"/><circle cx="169.2" cy="620.8" r="1.8"/><circle cx="173.5" cy="620.2" r="1.8"/><circle cx="160.5" cy="625.1" r="1.8"/><circle cx="164.8" cy="623.9" r="1.8"/><circle cx="169.2" cy="626.4" r="1.8"/><circle cx="173.5" cy="625.8" r="1.8"/><circle cx="160.5" cy="627.6" r="1.8"/><circle cx="164.8" cy="628.0" r="1.8"/><circle cx="160.5" cy="630.1" r="1.8"/><circle cx="164.8" cy="632.2" r="1.8"/><circle cx="160.5" cy="637.6" r="1.8"/><circle cx="164.8" cy="639.4" r="1.8"/><circle cx="169.2" cy="638.4" r="1.8"/><circle cx="173.5" cy="637.2" r="1.8"/><circle cx="164.8" cy="645.0" r="1.8"/><circle cx="164.8" cy="657.4" r="1.8"/><circle cx="207.0" cy="578.4" r="1.8"/><circle cx="207.0" cy="584.8" r="1.8"/><circle cx="207.0" cy="591.6" r="1.8"/><circle cx="207.0" cy="596.2" r="1.8"/><circle cx="198.3" cy="599.7" r="1.8"/><circle cx="202.7" cy="600.0" r="1.8"/><circle cx="207.0" cy="600.3" r="1.8"/><circle cx="211.3" cy="599.7" r="1.8"/><circle cx="198.3" cy="602.8" r="1.8"/><circle cx="202.7" cy="604.9" r="1.8"/><circle cx="207.0" cy="606.5" r="1.8"/><circle cx="211.3" cy="605.9" r="1.8"/><circle cx="215.7" cy="604.9" r="1.8"/><circle cx="215.7" cy="607.2" r="1.8"/><circle cx="198.3" cy="610.3" r="1.8"/><circle cx="202.7" cy="610.9" r="1.8"/><circle cx="207.0" cy="612.1" r="1.8"/><circle cx="211.3" cy="610.9" r="1.8"/><circle cx="202.7" cy="616.8" r="1.8"/><circle cx="207.0" cy="620.8" r="1.8"/><circle cx="211.3" cy="620.8" r="1.8"/><circle cx="202.7" cy="632.6" r="1.8"/><circle cx="207.0" cy="631.7" r="1.8"/><circle cx="211.3" cy="635.1" r="1.8"/><circle cx="202.7" cy="637.9" r="1.8"/><circle cx="207.0" cy="636.3" r="1.8"/><circle cx="207.0" cy="641.3" r="1.8"/><circle cx="207.0" cy="646.9" r="1.8"/><circle cx="245.4" cy="579.9" r="1.8"/><circle cx="249.7" cy="582.1" r="1.8"/><circle cx="254.1" cy="579.6" r="1.8"/><circle cx="249.7" cy="588.3" r="1.8"/><circle cx="254.1" cy="586.3" r="1.8"/><circle cx="245.4" cy="600.3" r="1.8"/><circle cx="249.7" cy="602.2" r="1.8"/><circle cx="254.1" cy="598.7" r="1.8"/><circle cx="245.4" cy="606.2" r="1.8"/><circle cx="254.1" cy="607.2" r="1.8"/><circle cx="257.8" cy="605.9" r="1.8"/><circle cx="245.4" cy="610.9" r="1.8"/><circle cx="249.7" cy="610.3" r="1.8"/><circle cx="254.1" cy="610.3" r="1.8"/><circle cx="249.7" cy="614.6" r="1.8"/><circle cx="245.4" cy="616.5" r="1.8"/><circle cx="249.7" cy="619.3" r="1.8"/><circle cx="254.1" cy="617.3" r="1.8"/><circle cx="245.4" cy="626.4" r="1.8"/><circle cx="249.7" cy="627.6" r="1.8"/><circle cx="254.1" cy="625.8" r="1.8"/><circle cx="249.7" cy="634.5" r="1.8"/><circle cx="254.1" cy="633.8" r="1.8"/><circle cx="245.4" cy="640.0" r="1.8"/><circle cx="249.7" cy="640.0" r="1.8"/><circle cx="249.7" cy="645.0" r="1.8"/><circle cx="249.8" cy="554.9" r="1.8"/></g>
<g fill="#000"><circle cx="409.7" cy="544.1" r="1.8"/><circle cx="409.7" cy="555.2" r="1.8"/><circle cx="414.1" cy="605.8" r="1.8"/><circle cx="409.7" cy="609.6" r="1.8"/><circle cx="409.7" cy="617.5" r="1.8"/><circle cx="409.7" cy="627.4" r="1.8"/><circle cx="405.2" cy="630.8" r="1.8"/><circle cx="409.7" cy="635.0" r="1.8"/><circle cx="414.1" cy="645.2" r="1.8"/><circle cx="409.7" cy="649.0" r="1.8"/><circle cx="452.3" cy="568.6" r="1.8"/><circle cx="452.3" cy="588.0" r="1.8"/><circle cx="456.3" cy="585.5" r="1.8"/><circle cx="452.3" cy="598.4" r="1.8"/><circle cx="452.3" cy="605.4" r="1.8"/><circle cx="447.8" cy="611.4" r="1.8"/><circle cx="452.3" cy="612.7" r="1.8"/><circle cx="456.3" cy="610.1" r="1.8"/><circle cx="452.3" cy="624.5" r="1.8"/><circle cx="456.3" cy="623.2" r="1.8"/><circle cx="452.3" cy="630.5" r="1.8"/><circle cx="452.3" cy="640.1" r="1.8"/><circle cx="447.8" cy="644.2" r="1.8"/><circle cx="452.3" cy="645.5" r="1.8"/><circle cx="456.3" cy="643.5" r="1.8"/><circle cx="452.3" cy="653.7" r="1.8"/><circle cx="490.1" cy="566.4" r="1.8"/><circle cx="494.8" cy="567.7" r="1.8"/><circle cx="494.8" cy="575.8" r="1.8"/><circle cx="490.1" cy="594.0" r="1.8"/><circle cx="494.8" cy="598.2" r="1.8"/><circle cx="490.1" cy="605.4" r="1.8"/><circle cx="494.8" cy="608.6" r="1.8"/><circle cx="499.0" cy="607.3" r="1.8"/><circle cx="490.1" cy="613.4" r="1.8"/><circle cx="494.8" cy="616.9" r="1.8"/><circle cx="485.9" cy="620.0" r="1.8"/><circle cx="490.1" cy="623.6" r="1.8"/><circle cx="494.8" cy="624.1" r="1.8"/><circle cx="499.0" cy="623.9" r="1.8"/><circle cx="503.3" cy="621.1" r="1.8"/><circle cx="490.1" cy="627.4" r="1.8"/><circle cx="494.8" cy="630.5" r="1.8"/><circle cx="494.8" cy="641.9" r="1.8"/><circle cx="499.0" cy="638.1" r="1.8"/><circle cx="537.1" cy="589.5" r="1.8"/><circle cx="537.1" cy="601.0" r="1.8"/><circle cx="541.4" cy="610.5" r="1.8"/><circle cx="537.1" cy="613.9" r="1.8"/><circle cx="537.1" cy="618.8" r="1.8"/><circle cx="537.1" cy="625.8" r="1.8"/><circle cx="537.1" cy="630.5" r="1.8"/><circle cx="537.1" cy="647.4" r="1.8"/><circle cx="579.6" cy="562.3" r="1.8"/><circle cx="575.2" cy="576.6" r="1.8"/><circle cx="579.6" cy="580.6" r="1.8"/><circle cx="583.8" cy="586.7" r="1.8"/><circle cx="579.6" cy="589.0" r="1.8"/><circle cx="575.2" cy="597.1" r="1.8"/><circle cx="579.6" cy="597.1" r="1.8"/><circle cx="575.2" cy="603.4" r="1.8"/><circle cx="579.6" cy="606.1" r="1.8"/><circle cx="583.8" cy="606.1" r="1.8"/><circle cx="579.6" cy="615.8" r="1.8"/><circle cx="575.2" cy="621.9" r="1.8"/><circle cx="579.6" cy="622.9" r="1.8"/><circle cx="583.8" cy="622.9" r="1.8"/></g>
<g fill="#000"><circle cx="76.1" cy="870.1" r="1.8"/><circle cx="80.5" cy="869.2" r="1.8"/><circle cx="84.8" cy="870.1" r="1.8"/><circle cx="80.5" cy="874.2" r="1.8"/><circle cx="76.1" cy="885.6" r="1.8"/><circle cx="80.5" cy="886.6" r="1.8"/><circle cx="80.5" cy="893.3" r="1.8"/><circle cx="84.8" cy="892.4" r="1.8"/><circle cx="123.3" cy="818.0" r="1.8"/><circle cx="127.6" cy="817.4" r="1.8"/><circle cx="123.3" cy="832.0" r="1.8"/><circle cx="123.3" cy="839.7" r="1.8"/><circle cx="118.9" cy="845.7" r="1.8"/><circle cx="127.6" cy="845.3" r="1.8"/><circle cx="123.3" cy="848.4" r="1.8"/><circle cx="114.6" cy="849.9" r="1.8"/><circle cx="132.0" cy="850.9" r="1.8"/><circle cx="136.3" cy="849.9" r="1.8"/><circle cx="114.6" cy="854.3" r="1.8"/><circle cx="118.9" cy="853.1" r="1.8"/><circle cx="123.3" cy="853.6" r="1.8"/><circle cx="127.6" cy="853.6" r="1.8"/><circle cx="118.9" cy="858.1" r="1.8"/><circle cx="123.3" cy="858.3" r="1.8"/><circle cx="127.6" cy="857.1" r="1.8"/><circle cx="127.6" cy="860.8" r="1.8"/><circle cx="110.3" cy="863.9" r="1.8"/><circle cx="114.6" cy="864.3" r="1.8"/><circle cx="118.9" cy="865.1" r="1.8"/><circle cx="123.3" cy="863.3" r="1.8"/><circle cx="127.6" cy="865.1" r="1.8"/><circle cx="132.0" cy="863.5" r="1.8"/><circle cx="123.3" cy="867.6" r="1.8"/><circle cx="118.9" cy="870.5" r="1.8"/><circle cx="127.6" cy="871.7" r="1.8"/><circle cx="132.0" cy="869.5" r="1.8"/><circle cx="123.3" cy="873.8" r="1.8"/><circle cx="118.9" cy="875.1" r="1.8"/><circle cx="127.6" cy="874.5" r="1.8"/><circle cx="110.3" cy="875.9" r="1.8"/><circle cx="114.6" cy="877.9" r="1.8"/><circle cx="118.9" cy="878.2" r="1.8"/><circle cx="123.3" cy="878.8" r="1.8"/><circle cx="127.6" cy="877.9" r="1.8"/><circle cx="132.0" cy="876.9" r="1.8"/><circle cx="136.3" cy="875.4" r="1.8"/><circle cx="123.3" cy="885.4" r="1.8"/><circle cx="118.9" cy="889.6" r="1.8"/><circle cx="123.3" cy="890.6" r="1.8"/><circle cx="123.3" cy="895.3" r="1.8"/><circle cx="127.6" cy="894.9" r="1.8"/><circle cx="161.3" cy="815.5" r="1.8"/><circle cx="165.4" cy="818.6" r="1.8"/><circle cx="169.8" cy="817.1" r="1.8"/><circle cx="165.4" cy="824.2" r="1.8"/><circle cx="165.4" cy="829.5" r="1.8"/><circle cx="161.3" cy="836.2" r="1.8"/><circle cx="165.4" cy="837.8" r="1.8"/><circle cx="169.8" cy="835.0" r="1.8"/><circle cx="161.3" cy="843.7" r="1.8"/><circle cx="165.4" cy="845.3" r="1.8"/><circle cx="169.8" cy="843.7" r="1.8"/><circle cx="173.8" cy="842.8" r="1.8"/><circle cx="169.8" cy="847.8" r="1.8"/><circle cx="161.3" cy="849.4" r="1.8"/><circle cx="165.4" cy="851.1" r="1.8"/><circle cx="161.3" cy="858.3" r="1.8"/><circle cx="165.4" cy="859.8" r="1.8"/><circle cx="169.8" cy="859.3" r="1.8"/><circle cx="173.8" cy="856.8" r="1.8"/><circle cx="156.1" cy="863.9" r="1.8"/><circle cx="161.3" cy="865.1" r="1.8"/><circle cx="165.4" cy="865.5" r="1.8"/><circle cx="169.8" cy="864.8" r="1.8"/><circle cx="173.8" cy="863.9" r="1.8"/><circle cx="165.4" cy="874.2" r="1.8"/><circle cx="161.3" cy="883.8" r="1.8"/><circle cx="165.4" cy="884.6" r="1.8"/><circle cx="169.8" cy="882.5" r="1.8"/><circle cx="165.4" cy="895.3" r="1.8"/><circle cx="203.3" cy="819.6" r="1.8"/><circle cx="208.0" cy="820.5" r="1.8"/><circle cx="212.6" cy="825.8" r="1.8"/><circle cx="208.0" cy="828.8" r="1.8"/><circle cx="208.0" cy="833.3" r="1.8"/><circle cx="199.6" cy="837.0" r="1.8"/><circle cx="203.9" cy="837.2" r="1.8"/><circle cx="208.0" cy="838.2" r="1.8"/><circle cx="212.6" cy="837.2" r="1.8"/><circle cx="216.9" cy="837.0" r="1.8"/><circle cx="221.3" cy="836.2" r="1.8"/><circle cx="203.9" cy="840.9" r="1.8"/><circle cx="212.6" cy="840.7" r="1.8"/><circle cx="199.6" cy="843.7" r="1.8"/><circle cx="203.9" cy="843.4" r="1.8"/><circle cx="208.0" cy="844.1" r="1.8"/><circle cx="216.3" cy="844.4" r="1.8"/><circle cx="203.9" cy="846.5" r="1.8"/><circle cx="208.0" cy="847.8" r="1.8"/><circle cx="212.6" cy="848.6" r="1.8"/><circle cx="203.9" cy="852.4" r="1.8"/><circle cx="208.0" cy="852.7" r="1.8"/><circle cx="203.9" cy="854.6" r="1.8"/><circle cx="216.3" cy="854.6" r="1.8"/><circle cx="208.0" cy="858.3" r="1.8"/><circle cx="212.6" cy="858.1" r="1.8"/><circle cx="203.9" cy="864.3" r="1.8"/><circle cx="208.0" cy="867.6" r="1.8"/><circle cx="203.9" cy="870.5" r="1.8"/><circle cx="208.0" cy="872.6" r="1.8"/><circle cx="212.6" cy="872.0" r="1.8"/><circle cx="208.0" cy="877.9" r="1.8"/><circle cx="208.0" cy="882.5" r="1.8"/><circle cx="250.3" cy="822.3" r="1.8"/><circle cx="250.3" cy="842.5" r="1.8"/><circle cx="250.3" cy="850.4" r="1.8"/><circle cx="165.2" cy="793.5" r="1.8"/></g>
<g fill="#000"><circle cx="409.6" cy="852.0" r="1.8"/><circle cx="409.6" cy="858.3" r="1.8"/><circle cx="409.6" cy="864.3" r="1.8"/><circle cx="409.6" cy="870.9" r="1.8"/><circle cx="409.6" cy="894.7" r="1.8"/><circle cx="452.1" cy="785.0" r="1.8"/><circle cx="452.1" cy="796.1" r="1.8"/><circle cx="447.8" cy="808.8" r="1.8"/><circle cx="452.1" cy="809.7" r="1.8"/><circle cx="452.1" cy="817.7" r="1.8"/><circle cx="452.1" cy="830.2" r="1.8"/><circle cx="447.8" cy="834.9" r="1.8"/><circle cx="452.1" cy="839.2" r="1.8"/><circle cx="456.5" cy="838.8" r="1.8"/><circle cx="447.8" cy="845.4" r="1.8"/><circle cx="452.1" cy="846.4" r="1.8"/><circle cx="447.8" cy="851.4" r="1.8"/><circle cx="456.5" cy="852.0" r="1.8"/><circle cx="461.0" cy="850.7" r="1.8"/><circle cx="452.1" cy="854.7" r="1.8"/><circle cx="447.8" cy="859.6" r="1.8"/><circle cx="452.1" cy="860.4" r="1.8"/><circle cx="443.5" cy="863.0" r="1.8"/><circle cx="447.8" cy="864.6" r="1.8"/><circle cx="452.1" cy="865.9" r="1.8"/><circle cx="456.5" cy="864.6" r="1.8"/><circle cx="461.0" cy="863.9" r="1.8"/><circle cx="465.3" cy="862.6" r="1.8"/><circle cx="443.5" cy="867.9" r="1.8"/><circle cx="447.8" cy="871.2" r="1.8"/><circle cx="452.1" cy="871.2" r="1.8"/><circle cx="456.5" cy="867.9" r="1.8"/><circle cx="456.5" cy="875.8" r="1.8"/><circle cx="452.1" cy="878.9" r="1.8"/><circle cx="443.5" cy="881.1" r="1.8"/><circle cx="447.8" cy="885.1" r="1.8"/><circle cx="452.1" cy="885.1" r="1.8"/><circle cx="456.5" cy="882.4" r="1.8"/><circle cx="461.0" cy="885.8" r="1.8"/><circle cx="447.8" cy="886.4" r="1.8"/><circle cx="452.1" cy="889.1" r="1.8"/><circle cx="456.5" cy="888.1" r="1.8"/><circle cx="494.5" cy="807.5" r="1.8"/><circle cx="494.5" cy="817.3" r="1.8"/><circle cx="490.1" cy="827.9" r="1.8"/><circle cx="494.5" cy="829.2" r="1.8"/><circle cx="498.8" cy="826.5" r="1.8"/><circle cx="498.8" cy="838.2" r="1.8"/><circle cx="494.5" cy="841.9" r="1.8"/><circle cx="485.9" cy="845.0" r="1.8"/><circle cx="490.1" cy="848.5" r="1.8"/><circle cx="494.5" cy="849.4" r="1.8"/><circle cx="498.8" cy="846.4" r="1.8"/><circle cx="490.1" cy="853.4" r="1.8"/><circle cx="494.5" cy="856.4" r="1.8"/><circle cx="498.8" cy="855.1" r="1.8"/><circle cx="490.1" cy="862.0" r="1.8"/><circle cx="494.5" cy="863.5" r="1.8"/><circle cx="494.5" cy="870.9" r="1.8"/><circle cx="537.2" cy="803.5" r="1.8"/><circle cx="537.2" cy="830.0" r="1.8"/><circle cx="537.2" cy="858.0" r="1.8"/><circle cx="537.2" cy="863.9" r="1.8"/><circle cx="579.7" cy="821.7" r="1.8"/><circle cx="579.7" cy="837.9" r="1.8"/><circle cx="579.7" cy="847.7" r="1.8"/><circle cx="583.8" cy="846.5" r="1.8"/></g>
<g fill="#000"><rect x="58.1" y="56.9" width="3.3" height="3.3"/><rect x="58.1" y="87.9" width="3.3" height="3.3"/><rect x="78.0" y="74.7" width="3.3" height="3.3"/><rect x="71.1" y="96.6" width="3.3" height="3.3"/><rect x="85.9" y="95.8" width="3.3" height="3.3"/><rect x="63.2" y="101.0" width="3.3" height="3.3"/><rect x="63.8" y="102.6" width="3.3" height="3.3"/><rect x="64.8" y="100.6" width="3.3" height="3.3"/><rect x="58.1" y="106.9" width="3.3" height="3.3"/><rect x="58.9" y="116.4" width="3.3" height="3.3"/><rect x="67.6" y="125.5" width="3.3" height="3.3"/><rect x="66.0" y="135.5" width="3.3" height="3.3"/><rect x="78.0" y="137.6" width="3.3" height="3.3"/><rect x="58.1" y="143.9" width="3.3" height="3.3"/><rect x="84.3" y="146.6" width="3.3" height="3.3"/><rect x="82.7" y="153.0" width="3.3" height="3.3"/><rect x="83.2" y="154.5" width="3.3" height="3.3"/><rect x="83.2" y="168.8" width="3.3" height="3.3"/><rect x="98.6" y="146.1" width="3.3" height="3.3"/><rect x="98.6" y="155.3" width="3.3" height="3.3"/><rect x="108.9" y="134.4" width="3.3" height="3.3"/><rect x="108.9" y="147.1" width="3.3" height="3.3"/><rect x="108.9" y="148.7" width="3.3" height="3.3"/><rect x="113.3" y="150.3" width="3.3" height="3.3"/><rect x="108.9" y="156.6" width="3.3" height="3.3"/><rect x="108.9" y="173.1" width="3.3" height="3.3"/><rect x="118.7" y="165.2" width="3.3" height="3.3"/><rect x="124.0" y="163.3" width="3.3" height="3.3"/><rect x="129.2" y="158.2" width="3.3" height="3.3"/><rect x="134.3" y="153.0" width="3.3" height="3.3"/><rect x="134.3" y="158.2" width="3.3" height="3.3"/><rect x="134.3" y="170.9" width="3.3" height="3.3"/><rect x="139.4" y="143.9" width="3.3" height="3.3"/><rect x="139.4" y="151.8" width="3.3" height="3.3"/><rect x="144.6" y="158.5" width="3.3" height="3.3"/><rect x="149.5" y="137.9" width="3.3" height="3.3"/><rect x="149.5" y="148.9" width="3.3" height="3.3"/><rect x="149.5" y="150.5" width="3.3" height="3.3"/><rect x="149.5" y="156.9" width="3.3" height="3.3"/><rect x="149.5" y="168.5" width="3.3" height="3.3"/><rect x="144.6" y="158.5" width="3.3" height="3.3"/><rect x="154.6" y="164.9" width="3.3" height="3.3"/><rect x="159.4" y="156.9" width="3.3" height="3.3"/><rect x="159.4" y="160.4" width="3.3" height="3.3"/><rect x="159.4" y="163.3" width="3.3" height="3.3"/><rect x="169.8" y="152.4" width="3.3" height="3.3"/><rect x="169.8" y="154.5" width="3.3" height="3.3"/><rect x="169.8" y="157.7" width="3.3" height="3.3"/><rect x="169.8" y="160.4" width="3.3" height="3.3"/><rect x="169.8" y="162.5" width="3.3" height="3.3"/><rect x="169.8" y="165.2" width="3.3" height="3.3"/><rect x="174.7" y="166.8" width="3.3" height="3.3"/><rect x="180.0" y="139.5" width="3.3" height="3.3"/><rect x="180.0" y="147.6" width="3.3" height="3.3"/><rect x="180.0" y="149.7" width="3.3" height="3.3"/><rect x="180.0" y="153.7" width="3.3" height="3.3"/><rect x="189.9" y="149.2" width="3.3" height="3.3"/><rect x="189.9" y="152.1" width="3.3" height="3.3"/><rect x="189.9" y="157.7" width="3.3" height="3.3"/><rect x="195.1" y="153.4" width="3.3" height="3.3"/><rect x="189.9" y="165.7" width="3.3" height="3.3"/><rect x="189.9" y="170.5" width="3.3" height="3.3"/><rect x="199.9" y="157.7" width="3.3" height="3.3"/><rect x="199.9" y="165.7" width="3.3" height="3.3"/><rect x="210.5" y="156.6" width="3.3" height="3.3"/><rect x="210.5" y="161.4" width="3.3" height="3.3"/><rect x="210.5" y="166.5" width="3.3" height="3.3"/><rect x="210.5" y="169.7" width="3.3" height="3.3"/><rect x="210.5" y="172.6" width="3.3" height="3.3"/><rect x="220.8" y="160.9" width="3.3" height="3.3"/><rect x="220.8" y="163.6" width="3.3" height="3.3"/><rect x="220.8" y="166.8" width="3.3" height="3.3"/><rect x="230.9" y="155.0" width="3.3" height="3.3"/><rect x="230.9" y="157.7" width="3.3" height="3.3"/><rect x="230.9" y="164.9" width="3.3" height="3.3"/><rect x="236.2" y="157.7" width="3.3" height="3.3"/><rect x="236.2" y="163.0" width="3.3" height="3.3"/></g>
<g fill="#000"><circle cx="394.8" cy="63.9" r="1.75"/><circle cx="401.6" cy="86.5" r="1.75"/><circle cx="417.4" cy="88.1" r="1.75"/><circle cx="392.0" cy="88.7" r="1.75"/><circle cx="393.8" cy="88.3" r="1.75"/><circle cx="395.5" cy="89.6" r="1.75"/><circle cx="397.7" cy="90.0" r="1.75"/><circle cx="389.8" cy="92.7" r="1.75"/><circle cx="399.4" cy="97.0" r="1.75"/><circle cx="405.6" cy="95.3" r="1.75"/><circle cx="390.3" cy="100.5" r="1.75"/><circle cx="393.8" cy="101.0" r="1.75"/><circle cx="394.6" cy="102.7" r="1.75"/><circle cx="400.3" cy="105.6" r="1.75"/><circle cx="406.0" cy="107.5" r="1.75"/><circle cx="425.7" cy="108.2" r="1.75"/><circle cx="407.8" cy="116.3" r="1.75"/><circle cx="423.5" cy="117.2" r="1.75"/><circle cx="431.8" cy="117.6" r="1.75"/><circle cx="403.4" cy="120.8" r="1.75"/><circle cx="407.8" cy="120.8" r="1.75"/><circle cx="416.5" cy="120.0" r="1.75"/><circle cx="396.8" cy="120.2" r="1.75"/><circle cx="418.3" cy="124.2" r="1.75"/><circle cx="410.8" cy="125.1" r="1.75"/><circle cx="396.4" cy="125.1" r="1.75"/><circle cx="399.4" cy="128.6" r="1.75"/><circle cx="407.3" cy="129.4" r="1.75"/><circle cx="431.8" cy="129.4" r="1.75"/><circle cx="444.5" cy="122.0" r="1.75"/><circle cx="444.5" cy="130.7" r="1.75"/><circle cx="399.0" cy="128.5" r="1.75"/><circle cx="407.3" cy="129.8" r="1.75"/><circle cx="402.5" cy="132.0" r="1.75"/><circle cx="400.8" cy="134.6" r="1.75"/><circle cx="403.8" cy="135.1" r="1.75"/><circle cx="390.3" cy="137.3" r="1.75"/><circle cx="393.8" cy="136.4" r="1.75"/><circle cx="395.5" cy="138.1" r="1.75"/><circle cx="390.3" cy="140.8" r="1.75"/><circle cx="393.8" cy="139.9" r="1.75"/><circle cx="397.3" cy="141.2" r="1.75"/><circle cx="400.8" cy="141.2" r="1.75"/><circle cx="404.3" cy="141.2" r="1.75"/><circle cx="392.0" cy="144.3" r="1.75"/><circle cx="395.5" cy="143.4" r="1.75"/><circle cx="399.9" cy="145.6" r="1.75"/><circle cx="393.8" cy="147.8" r="1.75"/><circle cx="395.5" cy="147.8" r="1.75"/><circle cx="393.8" cy="149.5" r="1.75"/><circle cx="407.3" cy="146.5" r="1.75"/><circle cx="406.5" cy="149.1" r="1.75"/><circle cx="415.6" cy="135.1" r="1.75"/><circle cx="418.3" cy="139.0" r="1.75"/><circle cx="422.2" cy="137.3" r="1.75"/><circle cx="413.0" cy="143.8" r="1.75"/><circle cx="416.1" cy="145.1" r="1.75"/><circle cx="419.6" cy="143.4" r="1.75"/><circle cx="415.2" cy="147.8" r="1.75"/><circle cx="413.9" cy="150.0" r="1.75"/><circle cx="422.7" cy="132.0" r="1.75"/><circle cx="427.0" cy="130.3" r="1.75"/><circle cx="431.4" cy="128.9" r="1.75"/><circle cx="430.5" cy="135.1" r="1.75"/><circle cx="429.7" cy="139.0" r="1.75"/><circle cx="433.6" cy="142.5" r="1.75"/><circle cx="431.4" cy="144.3" r="1.75"/><circle cx="423.5" cy="145.6" r="1.75"/><circle cx="425.3" cy="146.0" r="1.75"/><circle cx="423.5" cy="148.6" r="1.75"/><circle cx="427.5" cy="150.4" r="1.75"/><circle cx="430.5" cy="152.1" r="1.75"/><circle cx="433.6" cy="150.8" r="1.75"/><circle cx="433.2" cy="153.9" r="1.75"/><circle cx="430.5" cy="155.2" r="1.75"/><circle cx="426.2" cy="155.6" r="1.75"/><circle cx="423.1" cy="157.2" r="1.75"/><circle cx="439.7" cy="147.3" r="1.75"/><circle cx="444.5" cy="130.7" r="1.75"/><circle cx="444.5" cy="150.4" r="1.75"/><circle cx="392.4" cy="155.2" r="1.75"/><circle cx="401.2" cy="156.1" r="1.75"/><circle cx="406.0" cy="157.0" r="1.75"/><circle cx="409.1" cy="155.2" r="1.75"/><circle cx="412.6" cy="154.3" r="1.75"/><circle cx="416.1" cy="157.8" r="1.75"/><circle cx="408.6" cy="160.5" r="1.75"/><circle cx="399.4" cy="162.2" r="1.75"/><circle cx="399.9" cy="164.0" r="1.75"/><circle cx="395.5" cy="166.6" r="1.75"/><circle cx="404.3" cy="166.9" r="1.75"/><circle cx="418.7" cy="165.3" r="1.75"/><circle cx="425.3" cy="168.8" r="1.75"/><circle cx="434.0" cy="166.6" r="1.75"/><circle cx="443.2" cy="170.1" r="1.75"/><circle cx="448.8" cy="101.1" r="1.75"/><circle cx="458.1" cy="113.4" r="1.75"/><circle cx="472.5" cy="116.3" r="1.75"/><circle cx="445.3" cy="122.4" r="1.75"/><circle cx="459.9" cy="123.0" r="1.75"/><circle cx="466.9" cy="125.6" r="1.75"/><circle cx="484.4" cy="128.8" r="1.75"/><circle cx="445.6" cy="130.8" r="1.75"/><circle cx="447.0" cy="137.0" r="1.75"/><circle cx="464.8" cy="136.6" r="1.75"/><circle cx="467.1" cy="142.2" r="1.75"/><circle cx="464.3" cy="145.5" r="1.75"/><circle cx="484.4" cy="142.0" r="1.75"/><circle cx="481.5" cy="146.7" r="1.75"/><circle cx="487.9" cy="147.5" r="1.75"/><circle cx="489.6" cy="145.7" r="1.75"/><circle cx="486.7" cy="152.7" r="1.75"/><circle cx="488.5" cy="152.5" r="1.75"/><circle cx="487.3" cy="157.2" r="1.75"/><circle cx="482.6" cy="159.2" r="1.75"/><circle cx="496.1" cy="158.8" r="1.75"/><circle cx="500.1" cy="158.8" r="1.75"/><circle cx="504.2" cy="141.1" r="1.75"/><circle cx="505.6" cy="142.8" r="1.75"/><circle cx="512.6" cy="136.2" r="1.75"/><circle cx="508.3" cy="153.7" r="1.75"/><circle cx="517.7" cy="164.2" r="1.75"/><circle cx="511.5" cy="174.3" r="1.75"/><circle cx="440.6" cy="147.5" r="1.75"/><circle cx="446.1" cy="149.8" r="1.75"/><circle cx="459.6" cy="154.8" r="1.75"/><circle cx="457.8" cy="158.6" r="1.75"/><circle cx="459.6" cy="161.8" r="1.75"/><circle cx="443.7" cy="170.3" r="1.75"/><circle cx="484.1" cy="167.3" r="1.75"/><circle cx="551.8" cy="153.6" r="1.75"/><circle cx="517.9" cy="164.1" r="1.75"/><circle cx="529.4" cy="168.4" r="1.75"/><circle cx="528.7" cy="171.1" r="1.75"/><circle cx="511.3" cy="174.6" r="1.75"/><circle cx="569.8" cy="168.0" r="1.75"/><circle cx="399.5" cy="128.2" r="1.75"/><circle cx="407.2" cy="129.8" r="1.75"/><circle cx="402.4" cy="132.4" r="1.75"/><circle cx="401.3" cy="135.1" r="1.75"/><circle cx="404.0" cy="135.6" r="1.75"/><circle cx="395.0" cy="135.1" r="1.75"/><circle cx="391.3" cy="137.7" r="1.75"/><circle cx="393.4" cy="137.2" r="1.75"/><circle cx="390.2" cy="139.8" r="1.75"/><circle cx="392.3" cy="140.9" r="1.75"/><circle cx="390.2" cy="143.0" r="1.75"/><circle cx="393.9" cy="143.5" r="1.75"/><circle cx="397.1" cy="140.3" r="1.75"/><circle cx="399.8" cy="140.9" r="1.75"/><circle cx="404.0" cy="140.9" r="1.75"/><circle cx="396.6" cy="143.0" r="1.75"/><circle cx="400.3" cy="145.6" r="1.75"/><circle cx="393.9" cy="147.2" r="1.75"/><circle cx="393.4" cy="149.3" r="1.75"/><circle cx="407.2" cy="146.7" r="1.75"/><circle cx="406.6" cy="149.3" r="1.75"/><circle cx="413.0" cy="144.0" r="1.75"/><circle cx="414.6" cy="149.3" r="1.75"/><circle cx="392.3" cy="154.1" r="1.75"/><circle cx="392.3" cy="156.2" r="1.75"/><circle cx="401.3" cy="156.2" r="1.75"/><circle cx="405.8" cy="156.7" r="1.75"/><circle cx="409.3" cy="154.6" r="1.75"/><circle cx="412.5" cy="154.1" r="1.75"/><circle cx="409.0" cy="160.7" r="1.75"/><circle cx="399.8" cy="162.0" r="1.75"/><circle cx="399.8" cy="164.2" r="1.75"/><circle cx="395.5" cy="166.3" r="1.75"/><circle cx="404.3" cy="166.8" r="1.75"/><circle cx="415.1" cy="135.6" r="1.75"/><circle cx="415.1" cy="157.8" r="1.75"/></g>
<g fill="#000"><circle cx="389.9" cy="99.7" r="1.8"/><circle cx="392.8" cy="99.3" r="1.8"/><circle cx="395.3" cy="98.9" r="1.8"/><circle cx="389.8" cy="101.6" r="1.8"/><circle cx="393.2" cy="101.6" r="1.8"/><circle cx="395.5" cy="102.6" r="1.8"/><circle cx="390.2" cy="105.3" r="1.8"/><circle cx="393.2" cy="104.4" r="1.8"/><circle cx="394.8" cy="104.5" r="1.8"/><circle cx="389.9" cy="107.4" r="1.8"/><circle cx="392.6" cy="107.4" r="1.8"/><circle cx="394.8" cy="106.9" r="1.8"/><circle cx="390.2" cy="109.7" r="1.8"/><circle cx="392.7" cy="109.7" r="1.8"/><circle cx="395.5" cy="109.6" r="1.8"/><circle cx="390.3" cy="113.0" r="1.8"/><circle cx="392.5" cy="113.1" r="1.8"/><circle cx="395.2" cy="112.8" r="1.8"/><circle cx="390.3" cy="114.5" r="1.8"/><circle cx="393.1" cy="115.2" r="1.8"/><circle cx="395.1" cy="115.3" r="1.8"/><circle cx="390.4" cy="117.6" r="1.8"/><circle cx="393.3" cy="117.7" r="1.8"/><circle cx="394.8" cy="117.9" r="1.8"/><circle cx="390.9" cy="120.7" r="1.8"/><circle cx="392.7" cy="120.5" r="1.8"/><circle cx="395.3" cy="119.9" r="1.8"/><circle cx="389.8" cy="123.2" r="1.8"/><circle cx="392.5" cy="122.8" r="1.8"/><circle cx="394.8" cy="122.8" r="1.8"/><circle cx="390.8" cy="125.9" r="1.8"/><circle cx="392.5" cy="125.4" r="1.8"/><circle cx="395.8" cy="126.0" r="1.8"/><circle cx="389.9" cy="127.8" r="1.8"/><circle cx="392.8" cy="128.2" r="1.8"/><circle cx="394.7" cy="128.0" r="1.8"/><circle cx="390.4" cy="131.2" r="1.8"/><circle cx="392.8" cy="130.8" r="1.8"/><circle cx="389.8" cy="133.8" r="1.8"/><circle cx="393.2" cy="133.7" r="1.8"/><circle cx="390.2" cy="135.4" r="1.8"/><circle cx="392.3" cy="135.4" r="1.8"/><circle cx="389.9" cy="138.3" r="1.8"/><circle cx="392.2" cy="138.1" r="1.8"/></g>
<g fill="#000"><circle cx="391.0" cy="89.0" r="1.9"/><circle cx="394.0" cy="88.0" r="1.9"/><circle cx="397.0" cy="89.5" r="1.9"/><circle cx="390.0" cy="92.0" r="1.9"/><circle cx="391.0" cy="95.0" r="1.9"/><circle cx="393.5" cy="101.0" r="1.9"/><circle cx="392.0" cy="103.0" r="1.9"/></g>
<line x1="59.70" y1="107.00" x2="99.00" y2="167.00" stroke="#ff0000" stroke-width="1.8"/>
<line x1="101.80" y1="153.50" x2="246.70" y2="165.70" stroke="#0000ff" stroke-width="1.8"/>
<line x1="394.40" y1="121.90" x2="559.70" y2="172.00" stroke="#4646ff" stroke-width="1.7"/>
</svg>
</body></html>
